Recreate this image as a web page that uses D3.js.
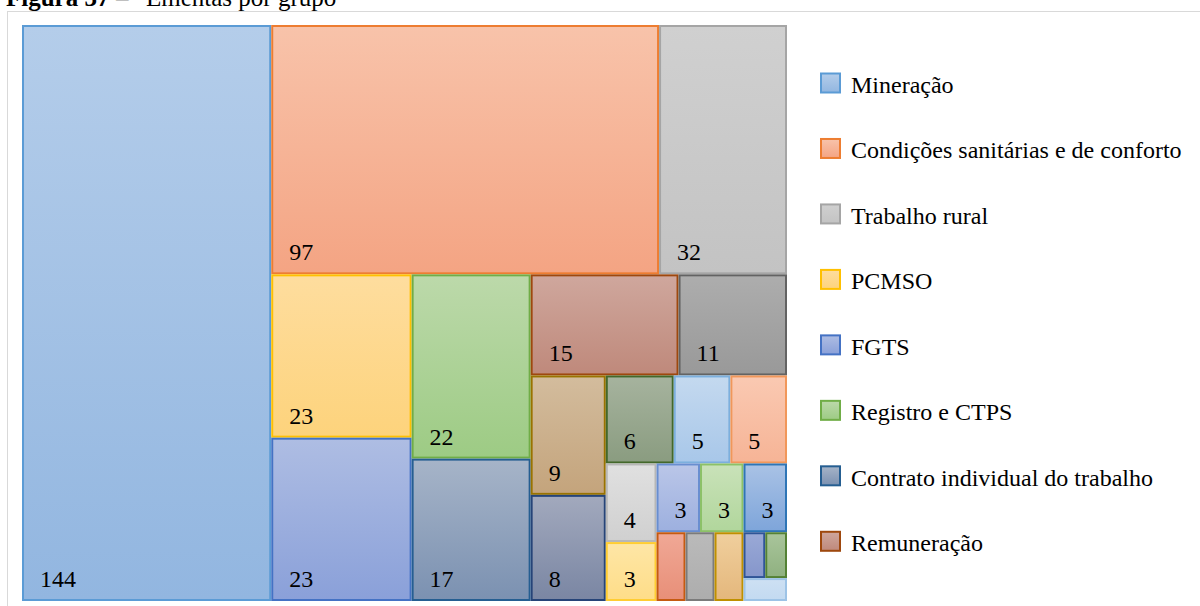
<!DOCTYPE html>
<html>
<head>
<meta charset="utf-8">
<script src="https://cdn.jsdelivr.net/npm/d3@7"></script>
<style>
  body { margin: 0; background: #fff; }
  svg { display: block; font-family: "Liberation Serif", "Times New Roman", serif; }
</style>
</head>
<body>
<div class="container"></div>
<script>
// groups, largest first (only the first 8 names are shown in the legend)
var categories = ["Mineração", "Condições sanitárias e de conforto", "Trabalho rural", "PCMSO", "FGTS",
  "Registro e CTPS", "Contrato individual do trabalho", "Remuneração",
  "Grupo 9", "Grupo 10", "Grupo 11", "Grupo 12", "Grupo 13", "Grupo 14", "Grupo 15", "Grupo 16",
  "Grupo 17", "Grupo 18", "Grupo 19", "Grupo 20", "Grupo 21", "Grupo 22", "Grupo 23", "Grupo 24", "Grupo 25"];
var values = [144, 97, 32, 23, 23, 22, 17, 15, 11, 9, 8, 6, 5, 5, 4, 3, 3, 3, 3, 2, 2, 2, 1, 1, 1];
var labelled = 19; // cells with a number drawn inside
var legendCount = 8;

// border colours (office palette cycle)
var colors = ["#5B9BD5", "#ED7D31", "#A5A5A5", "#FFC000", "#4472C4", "#70AD47",
  "#255E91", "#9E480E", "#636363", "#997300", "#264478", "#43682B",
  "#7CAFDD", "#F1975A", "#B7B7B7", "#FFCD33", "#698ED0", "#8CC168",
  "#2E75B6", "#C55A11", "#7B7B7B", "#BF9000", "#2F5597", "#548235", "#9DC3E6"];
// gradient fills, top and bottom
var fillTop = ["#b4cdea", "#f8c3aa", "#d0d0d0", "#fedd9e", "#aebde3", "#bcd9aa",
  "#a6b4c8", "#cfa79d", "#adadad", "#d3bc9d", "#a2a9bd", "#a6b39e",
  "#c4d9ef", "#fac9b2", "#e0e0e0", "#fee6a6", "#bac6e8", "#c9e2b9",
  "#a9c2e5", "#f0a896", "#bababa", "#f0cf9d", "#9aa9d6", "#a9c59b", "#cde0f3"];
var fillBottom = ["#92b6e0", "#f4a483", "#c3c3c3", "#fdd37c", "#8aa0d9", "#9dcb84",
  "#7b91b1", "#bf897b", "#999999", "#c4a47c", "#7a86a3", "#8a9c80",
  "#a8c7e9", "#f6b496", "#d0d0d0", "#fedd88", "#9db0df", "#b1d69c",
  "#7ea5da", "#e88f78", "#adadad", "#e4b77c", "#8596cb", "#8fb180", "#c3daf1"];

// how many items go in each strip of the excel layout
var stripSizes = [1, 2, 2, 2, 2, 2, 3, 2, 3, 3, 2, 1];

var W = 1200, H = 606;
var plot = {x: 22, y: 25, w: 765, h: 576};

var svg = d3.select(".container").append("svg")
  .attr("width", W)
  .attr("height", H);

// chart frame (runs off the page to the right and bottom)
svg.append("rect")
  .attr("x", 7.5).attr("y", 11.5)
  .attr("width", 1300).attr("height", 700)
  .attr("fill", "none")
  .attr("stroke", "#d9d9d9");

// caption, cut at the top like in the source
var title = svg.append("text")
  .attr("y", 6)
  .style("font-size", "25px")
  .attr("fill", "#000");
title.append("tspan").attr("x", 6).style("font-weight", "bold").text("Figura 37");
title.append("tspan").attr("x", 116).text("–");
title.append("tspan").attr("x", 146).text("Ementas por grupo");

// gradients
var defs = svg.append("defs");
colors.forEach(function(c, i) {
  var g = defs.append("linearGradient")
    .attr("id", "grad" + i)
    .attr("x1", 0).attr("y1", 0).attr("x2", 0).attr("y2", 1);
  g.append("stop").attr("offset", "0%").attr("stop-color", fillTop[i]);
  g.append("stop").attr("offset", "100%").attr("stop-color", fillBottom[i]);
});

// strip tiling: strip along the short side, children split along the strip's long side
function stripTile(parent, x0, y0, x1, y1) {
  var nodes = parent.children, i0 = 0, value = parent.value;
  stripSizes.forEach(function(k) {
    var row = {children: nodes.slice(i0, i0 + k)};
    row.value = d3.sum(row.children, function(c) { return c.value; });
    var dx = x1 - x0, dy = y1 - y0;
    var rx0 = x0, ry0 = y0, rx1 = x1, ry1 = y1;
    if (dx >= dy) { rx1 = x0 + dx * row.value / value; x0 = rx1; }
    else { ry1 = y0 + dy * row.value / value; y0 = ry1; }
    // near-square strips are split side by side
    if ((rx1 - rx0) * 1.1 >= ry1 - ry0) d3.treemapDice(row, rx0, ry0, rx1, ry1);
    else d3.treemapSlice(row, rx0, ry0, rx1, ry1);
    value -= row.value;
    i0 += k;
  });
}

var data = values.map(function(v, i) { return {name: categories[i], value: v, idx: i}; });
var root = d3.hierarchy({children: data}).sum(function(d) { return d.value || 0; });
d3.treemap().size([plot.w, plot.h]).tile(stripTile)(root);

var g = svg.append("g").attr("transform", "translate(" + plot.x + "," + plot.y + ")");

var cell = g.selectAll("g.cell")
  .data(root.leaves())
  .enter()
  .append("g")
  .attr("class", "cell");

cell.append("rect")
  .attr("x", function(d) { return d.x0 + 1; })
  .attr("y", function(d) { return d.y0 + 1; })
  .attr("width", function(d) { return d.x1 - d.x0 - 2; })
  .attr("height", function(d) { return d.y1 - d.y0 - 2; })
  .attr("fill", function(d) { return "url(#grad" + d.data.idx + ")"; })
  .attr("stroke", function(d) { return colors[d.data.idx]; })
  .attr("stroke-width", 2);

cell.filter(function(d) { return d.data.idx < labelled; })
  .append("text")
  .attr("x", function(d) { return d.x0 + 18; })
  .attr("y", function(d) { return d.y1 - 14; })
  .style("font-size", "24px")
  .attr("fill", "#000")
  .text(function(d) { return d.data.value; });

// legend
var legend = svg.append("g")
  .selectAll("g")
  .data(data.slice(0, legendCount))
  .enter()
  .append("g")
  .attr("transform", function(d, i) { return "translate(0," + (83 + i * 65.47) + ")"; });

legend.append("rect")
  .attr("x", 821).attr("y", -9.5)
  .attr("width", 19).attr("height", 19)
  .attr("fill", function(d) { return "url(#grad" + d.idx + ")"; })
  .attr("stroke", function(d) { return colors[d.idx]; })
  .attr("stroke-width", 2);

legend.append("text")
  .attr("x", 851).attr("y", 10)
  .style("font-size", "24px")
  .attr("fill", "#000")
  .text(function(d) { return d.name; });
</script>
</body>
</html>
